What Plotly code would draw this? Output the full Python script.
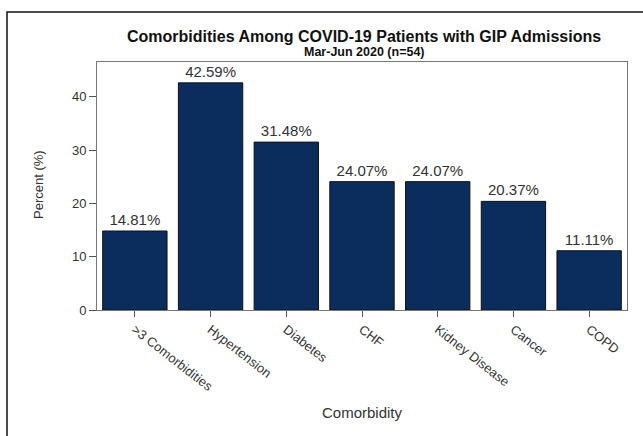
import plotly.graph_objects as go

categories = [">3 Comorbidities", "Hypertension", "Diabetes", "CHF", "Kidney Disease", "Cancer", "COPD"]
percents = [14.81, 42.59, 31.48, 24.07, 24.07, 20.37, 11.11]
y_ticks = [0, 10, 20, 30, 40]

W, H = 643, 436
L, R, T, B = 97, 16, 62, 126
pw, ph = W - L - R, H - T - B

def px(x):
    return (x - L) / pw

def py(y):
    return (H - B - y) / ph

FONT = "Arial, Liberation Sans, sans-serif"

fig = go.Figure(go.Bar(
    x=categories, y=percents,
    marker=dict(color="#0b2d5e", line=dict(color="#111111", width=1)),
    text=[f"{v:.2f}%" for v in percents],
    textposition="outside",
    textfont=dict(family=FONT, size=15, color="#333333"),
    cliponaxis=False,
))

fig.update_layout(
    width=W, height=H,
    margin=dict(l=L, r=R, t=T, b=B),
    paper_bgcolor="white", plot_bgcolor="white",
    bargap=0.15,
    showlegend=False,
    font=dict(family=FONT, color="#333333"),
    xaxis=dict(
        tickangle=38, ticks="outside", ticklen=6, tickcolor="#555555",
        showline=True, linecolor="#777777", linewidth=1, mirror=True,
        tickfont=dict(size=13, color="#333333"), automargin=False,
    ),
    yaxis=dict(
        range=[0, 46.5], tickvals=y_ticks, ticks="outside", ticklen=7,
        tickcolor="#555555", showgrid=False, zeroline=False,
        showline=True, linecolor="#777777", linewidth=1, mirror=True,
        tickfont=dict(size=13, color="#333333"), automargin=False,
    ),
    shapes=[dict(type="rect", xref="paper", yref="paper",
                 x0=px(7), x1=px(650), y0=py(445), y1=py(12),
                 line=dict(color="#111111", width=1.5))],
    annotations=[
        dict(text="<b>Comorbidities Among COVID-19 Patients with GIP Admissions</b>",
             xref="paper", yref="paper", x=px(364), y=py(36), showarrow=False,
             xanchor="center", yanchor="middle",
             font=dict(size=16, color="#111111")),
        dict(text="<b>Mar-Jun 2020 (n=54)</b>",
             xref="paper", yref="paper", x=px(364), y=py(52), showarrow=False,
             xanchor="center", yanchor="middle",
             font=dict(size=12.5, color="#111111")),
        dict(text="Percent (%)", textangle=-90,
             xref="paper", yref="paper", x=px(38), y=py(185), showarrow=False,
             xanchor="center", yanchor="middle",
             font=dict(size=13, color="#333333")),
        dict(text="Comorbidity",
             xref="paper", yref="paper", x=px(362), y=py(412), showarrow=False,
             xanchor="center", yanchor="middle",
             font=dict(size=15, color="#333333")),
    ],
)

fig.write_html("out.html", config={"displayModeBar": False},
               post_script="document.body.style.margin='0px';")
